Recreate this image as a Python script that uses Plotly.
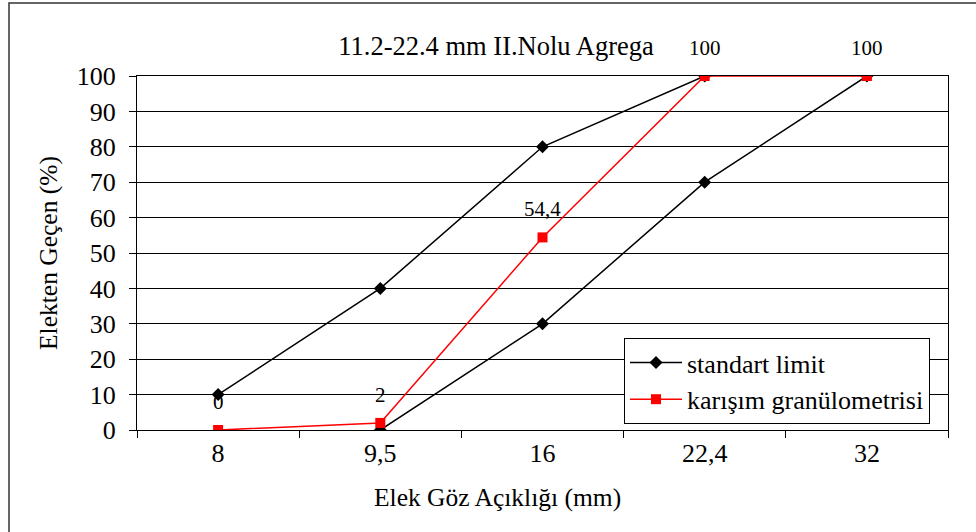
import plotly.graph_objects as go

# Data
categories = ["8", "9,5", "16", "22,4", "32"]
limit_upper = [10, 40, 80, 100, None]
limit_lower = [None, 0, 30, 70, 100]
mix_values = [0, 2, 54.4, 100, 100]
y_ticks = [0, 10, 20, 30, 40, 50, 60, 70, 80, 90, 100]

title_text = "11.2-22.4 mm II.Nolu Agrega"
x_title = "Elek Göz Açıklığı (mm)"
y_title = "Elekten Geçen (%)"

FONT = "Liberation Serif"
W, H = 976, 532
L, R, T, B = 137, 28, 76, 102

fig = go.Figure()

fig.add_trace(go.Scatter(
    x=categories, y=limit_upper, mode="lines+markers", name="standart limit",
    legendgroup="lim", line=dict(color="black", width=1.5),
    marker=dict(symbol="diamond", size=10, color="black"),
))
fig.add_trace(go.Scatter(
    x=categories, y=limit_lower, mode="lines+markers", name="standart limit",
    legendgroup="lim", showlegend=False, line=dict(color="black", width=1.5),
    marker=dict(symbol="diamond", size=10, color="black"),
))
fig.add_trace(go.Scatter(
    x=categories, y=mix_values, mode="lines+markers", name="karışım granülometrisi",
    line=dict(color="#ff0000", width=1.5),
    marker=dict(symbol="square", size=10, color="#ff0000"),
))

# data labels (x given as category index so numeric-looking names are not misread)
for i, v in enumerate(mix_values):
    txt = (f"{v:g}").replace(".", ",")
    fig.add_annotation(x=i, y=v, text=txt, showarrow=False, yshift=28,
                       font=dict(family=FONT, size=21, color="black"))

pw = W - L - R
ph = H - T - B
# axis titles
fig.add_annotation(xref="paper", yref="paper", x=(497 - L) / pw, y=(H - B - 497) / ph,
                   text=x_title, showarrow=False, font=dict(family=FONT, size=25.5, color="black"),
                   xanchor="center", yanchor="middle")
fig.add_annotation(xref="paper", yref="paper", x=(48 - L) / pw, y=0.5,
                   text=y_title, showarrow=False, textangle=-90,
                   font=dict(family=FONT, size=25.5, color="black"),
                   xanchor="center", yanchor="middle")

# outer border
fig.add_shape(type="rect", xref="paper", yref="paper",
              x0=(9 - L) / pw, x1=(990 - L) / pw,
              y0=(H - B - 545) / ph, y1=(H - B - 3) / ph,
              line=dict(color="#333333", width=1.5), fillcolor="rgba(0,0,0,0)", layer="below")

fig.update_layout(
    width=W, height=H,
    margin=dict(l=L, r=R, t=T, b=B),
    paper_bgcolor="white", plot_bgcolor="white",
    font=dict(family=FONT, size=26, color="black"),
    title=dict(text=title_text, x=496 / W, y=1 - 46 / H, xref="container", yref="container",
               xanchor="center", yanchor="middle", font=dict(family=FONT, size=26.5, color="black")),
    showlegend=True,
    legend=dict(x=(624 - L) / pw, y=(H - B - 338) / ph, xanchor="left", yanchor="top",
                bordercolor="black", borderwidth=1, bgcolor="white",
                font=dict(family=FONT, size=26, color="black"),
                itemwidth=52, tracegroupgap=0),
    xaxis=dict(type="category", categoryorder="array", categoryarray=categories,
               range=[-0.5, 4.5], showgrid=False, showline=True, mirror=True,
               linecolor="black", linewidth=1, ticks="outside", tickson="boundaries",
               ticklen=7, tickcolor="black", tickfont=dict(family=FONT, size=26),
               zeroline=False),
    yaxis=dict(range=[0, 100], tickvals=y_ticks, showgrid=True, gridcolor="black",
               gridwidth=1, showline=True, mirror=True, linecolor="black", linewidth=1,
               ticks="outside", ticklen=7, tickcolor="black",
               tickfont=dict(family=FONT, size=26), zeroline=False,
               ticklabelstandoff=8),
)

fig.write_html("out.html")
